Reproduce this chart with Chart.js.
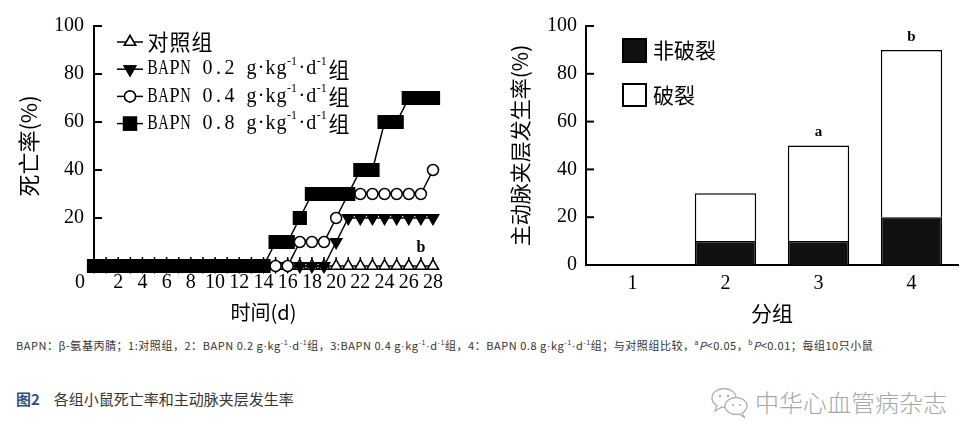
<!DOCTYPE html>
<html><head><meta charset="utf-8">
<script src="https://cdn.jsdelivr.net/npm/chart.js@4/dist/chart.umd.min.js"></script>
<style>
html,body{margin:0;padding:0;background:#fff;width:978px;height:445px;overflow:hidden;position:relative;font-family:"Noto Sans CJK SC",sans-serif}
#w1{position:absolute;left:0;top:0;width:470px;height:330px}
#w2{position:absolute;left:480px;top:0;width:498px;height:330px}
.note{position:absolute;left:16px;top:337px;font-size:11px;line-height:16px;color:#333;white-space:nowrap;letter-spacing:0.54px}
.note sup{font-size:7px;vertical-align:5px;line-height:0}
.note .d{font-family:"Liberation Sans",sans-serif}
.fig{position:absolute;left:16px;top:388px;font-size:15px;line-height:22px;color:#333;white-space:nowrap}
.fig b{color:#34507a;margin-right:14px}
.wm{position:absolute;left:755px;top:386px;font-size:24px;line-height:32px;color:#a8a8a8;white-space:nowrap;font-weight:300}
.icon{position:absolute;left:710px;top:386px}
</style></head>
<body>
<div id="w1"><canvas id="c1"></canvas></div>
<div id="w2"><canvas id="c2"></canvas></div>
<div class="note">BAPN：β-氨基丙腈；1:对照组，2：BAPN 0.2 g<span class="d">·</span>kg<sup>-1</sup><span class="d">·</span>d<sup>-1</sup>组，3:BAPN 0.4 g<span class="d">·</span>kg<sup>-1</sup><span class="d">·</span>d<sup>-1</sup>组，4：BAPN 0.8 g<span class="d">·</span>kg<sup>-1</sup><span class="d">·</span>d<sup>-1</sup>组；与对照组比较，<sup>a</sup><i>P</i>&lt;0.05，<sup>b</sup><i>P</i>&lt;0.01；每组10只小鼠</div>
<div class="fig"><b>图2</b>各组小鼠死亡率和主动脉夹层发生率</div>
<svg class="icon" width="42" height="34" viewBox="0 0 42 34"><g fill="#fff" stroke="#b0b0b0" stroke-width="1.3"><ellipse cx="14" cy="12" rx="12" ry="9.5"/><path d="M7 19 L5 25 L12 21"/><ellipse cx="26" cy="20" rx="11" ry="8.5"/><path d="M32 27 L35 32 L29 28"/></g><g fill="#b0b0b0"><circle cx="10" cy="10" r="1.3"/><circle cx="18" cy="10" r="1.3"/><circle cx="23" cy="19" r="1.1"/><circle cx="30" cy="19" r="1.1"/></g></svg>
<div class="wm">中华心血管病杂志</div>
<script>
// ---------- data: left chart (mortality over time) ----------
const days = [0,1,2,3,4,5,6,7,8,9,10,11,12,13,14,15,16,17,18,19,20,21,22,23,24,25,26,27,28];
const seriesNames = ['对照组','BAPN 0.2 g·kg⁻¹·d⁻¹组','BAPN 0.4 g·kg⁻¹·d⁻¹组','BAPN 0.8 g·kg⁻¹·d⁻¹组'];
const controlRate = [0,0,0,0,0,0,0,0,0,0,0,0,0,0,0,0,0,0,0,0,0,0,0,0,0,0,0,0,0];
const bapn02Rate  = [0,0,0,0,0,0,0,0,0,0,0,0,0,0,0,0,0,0,0,0,10,20,20,20,20,20,20,20,20];
const bapn04Rate  = [0,0,0,0,0,0,0,0,0,0,0,0,0,0,0,0,0,10,10,10,20,30,30,30,30,30,30,30,40];
const bapn08Rate  = [0,0,0,0,0,0,0,0,0,0,0,0,0,0,0,10,10,20,30,30,30,30,40,40,60,60,70,70,70];
const mortalityTicks = [20,40,60,80,100];
const mortalitySig = 'b';

// ---------- data: right chart (dissection incidence) ----------
const groups = ['1','2','3','4'];
const barNames = ['非破裂','破裂'];
const nonRupture = [0,10,10,20];
const rupture    = [0,20,40,70];
const groupSig   = ['','','a','b'];

const SERIF = '"Liberation Serif", "DejaVu Serif", serif';
const CJK = '"Noto Sans CJK SC", sans-serif';

function toPts(arr){ return arr.map((v,i)=>({x:days[i], y:v})); }

// draws text with half-width latin cells and full-width CJK cells, superscript ⁻¹
function drawRich(ctx, text, x, y, size){
  let cx = x;
  ctx.textBaseline = 'middle';
  const parts = text.split(/(⁻¹)/);
  for (const p of parts){
    if (!p) continue;
    if (p === '⁻¹'){
      ctx.font = Math.round(size*0.55) + 'px ' + SERIF;
      ctx.textAlign = 'left';
      ctx.fillText('-1', cx, y - size*0.33);
      cx += ctx.measureText('-1').width + 1;
    } else {
      for (const ch of p){
        const cjk = /[\u3000-\u9fff\uff00-\uffef]/.test(ch);
        const adv = cjk ? size : (ch === '·' ? size*0.36 : size/2);
        ctx.font = cjk ? size + 'px ' + CJK : Math.round(size*0.9) + 'px ' + SERIF;
        ctx.textAlign = 'center';
        const w = ctx.measureText(ch).width;
        const s = Math.min(1, adv*0.95/Math.max(w,1));
        ctx.save();
        ctx.translate(cx + adv/2, y);
        ctx.scale(s, 1);
        ctx.fillText(ch, 0, 0);
        ctx.restore();
        cx += adv;
      }
    }
  }
}

const tickMarks = {
  id: 'tickMarks',
  beforeDatasetsDraw(chart, args, o){
    const ctx = chart.ctx, xs = chart.scales.x, ys = chart.scales.y, a = chart.chartArea;
    ctx.save();
    ctx.strokeStyle = '#000';
    ctx.lineWidth = 2;
    ys.ticks.forEach(t => {
      if (t.value === 0) return;
      const py = ys.getPixelForValue(t.value);
      ctx.beginPath(); ctx.moveTo(a.left, py); ctx.lineTo(a.left + o.yLen, py); ctx.stroke();
    });
    if (o.xLen){
      ctx.lineWidth = 1.5;
      xs.ticks.forEach(t => {
        const px = xs.getPixelForValue(t.value);
        ctx.beginPath(); ctx.moveTo(px, a.bottom); ctx.lineTo(px, a.bottom - o.xLen); ctx.stroke();
      });
    }
    ctx.restore();
  }
};

const leftExtras = {
  id: 'leftExtras',
  afterDraw(chart){
    const ctx = chart.ctx, xs = chart.scales.x, ys = chart.scales.y;
    ctx.save();
    ctx.fillStyle = '#000';
    // origin label
    ctx.font = '20px ' + SERIF;
    ctx.textAlign = 'center'; ctx.textBaseline = 'middle';
    ctx.fillText('0', xs.getPixelForValue(0) - 14, ys.getPixelForValue(0) + 17);
    // significance mark
    ctx.font = 'bold 16px ' + SERIF;
    ctx.fillText(mortalitySig, xs.getPixelForValue(27), ys.getPixelForValue(7.5));
    // legend
    chart.data.datasets.forEach((ds, i) => {
      const yy = 42 + i*27.2;
      ctx.strokeStyle = '#000'; ctx.lineWidth = 1.5;
      ctx.beginPath(); ctx.moveTo(117, yy); ctx.lineTo(143, yy); ctx.stroke();
      Chart.helpers.drawPoint(ctx, {pointStyle: ds.pointStyle, rotation: ds.pointRotation || 0, radius: ds.pointRadius, borderWidth: 1.5}, 130, yy);
      ctx.fillStyle = ds.pointBackgroundColor; ctx.strokeStyle = '#000';
      ctx.fill(); ctx.stroke();
      ctx.fillStyle = '#000';
      drawRich(ctx, ds.label, 147, yy, 22);
    });
    ctx.restore();
  }
};

const rightExtras = {
  id: 'rightExtras',
  afterDraw(chart){
    const ctx = chart.ctx, xs = chart.scales.x, ys = chart.scales.y;
    ctx.save();
    // legend
    ctx.lineWidth = 2; ctx.strokeStyle = '#000';
    ctx.fillStyle = '#111'; ctx.fillRect(143, 39, 23, 23); ctx.strokeRect(143, 39, 23, 23);
    ctx.fillStyle = '#fff'; ctx.fillRect(143, 84, 23, 22); ctx.strokeRect(143, 84, 23, 22);
    ctx.fillStyle = '#000'; ctx.font = '21px ' + CJK; ctx.textAlign = 'left'; ctx.textBaseline = 'middle';
    ctx.fillText(barNames[0], 173, 50);
    ctx.fillText(barNames[1], 173, 95);
    // significance marks
    ctx.font = 'bold 15px ' + SERIF; ctx.textAlign = 'center';
    groups.forEach((g, i) => {
      if (!groupSig[i]) return;
      const total = nonRupture[i] + rupture[i];
      ctx.fillText(groupSig[i], xs.getPixelForValue(i), ys.getPixelForValue(total) - 13);
    });
    ctx.restore();
  }
};

const mk = (label, data, style, rot, r, fill, order) => ({
  label, data: toPts(data), borderColor:'#000', borderWidth:1.5,
  pointStyle: style, pointRotation: rot, pointRadius: r, pointHoverRadius: r,
  pointBackgroundColor: fill, pointBorderColor:'#000', pointBorderWidth:1.5,
  tension:0, clip:false, order
});

new Chart(document.getElementById('c1'), {
  type: 'line',
  data: { datasets: [
    mk(seriesNames[0], controlRate, 'triangle', 0, 6.5, '#fff', 3),
    mk(seriesNames[1], bapn02Rate, 'triangle', 180, 6.5, '#000', 2),
    mk(seriesNames[2], bapn04Rate, 'circle', 0, 5.5, '#fff', 1),
    mk(seriesNames[3], bapn08Rate, 'rect', 0, 9, '#000', 0)
  ]},
  options: {
    responsive: true, maintainAspectRatio: false, animation: false,
    layout: { padding: { left: 0, right: 37, top: 26, bottom: 0 } },
    plugins: { legend: { display: false }, tooltip: { enabled: false }, tickMarks: { yLen: 8, xLen: 9 } },
    scales: {
      x: { type: 'linear', min: 0, max: 28,
        afterFit: s => { s.height = 64; },
        grid: { display: false, drawTicks: false }, border: { display: false },
        ticks: { stepSize: 1, autoSkip: false, maxRotation: 0, padding: 5, color: '#000',
          font: { family: SERIF, size: 20 },
          callback: v => (v > 0 && v % 2 === 0) ? String(v) : '' },
        title: { display: true, text: '时间(d)', color: '#000', font: { family: CJK, size: 20 }, padding: { top: 0, bottom: 6 } }
      },
      y: { min: 0, max: 100,
        afterFit: s => { s.width = 94; },
        afterBuildTicks: s => { s.ticks = [0].concat(mortalityTicks).map(v => ({ value: v })); },
        grid: { display: false, drawTicks: false }, border: { display: true, color: '#000', width: 2 },
        ticks: { padding: 10, color: '#000', font: { family: SERIF, size: 20 },
          callback: v => v === 0 ? '' : String(v) },
        title: { display: true, text: '死亡率(%)', color: '#000', font: { family: CJK, size: 22 }, padding: { top: 15, bottom: 0 } }
      }
    }
  },
  plugins: [tickMarks, leftExtras]
});

new Chart(document.getElementById('c2'), {
  type: 'bar',
  data: { labels: groups, datasets: [
    { label: barNames[0], data: nonRupture, backgroundColor: '#111', borderColor: '#000', borderWidth: 1.5, barPercentage: 0.66, categoryPercentage: 1 },
    { label: barNames[1], data: rupture, backgroundColor: '#fff', borderColor: '#000', borderWidth: 1.5, barPercentage: 0.66, categoryPercentage: 1 }
  ]},
  options: {
    responsive: true, maintainAspectRatio: false, animation: false,
    layout: { padding: { left: 0, right: 20, top: 26, bottom: 0 } },
    plugins: { legend: { display: false }, tooltip: { enabled: false }, tickMarks: { yLen: 8, xLen: 0 } },
    scales: {
      x: { stacked: true,
        afterFit: s => { s.height = 65; },
        grid: { display: false, drawTicks: false }, border: { display: true, color: '#000', width: 2 },
        ticks: { padding: 7, color: '#000', font: { family: SERIF, size: 20 } },
        title: { display: true, text: '分组', color: '#000', font: { family: CJK, size: 21 }, padding: { top: 0, bottom: 4 } }
      },
      y: { stacked: true, min: 0, max: 100,
        afterFit: s => { s.width = 106; },
        grid: { display: false, drawTicks: false }, border: { display: true, color: '#000', width: 2 },
        ticks: { stepSize: 20, padding: 9, color: '#000', font: { family: SERIF, size: 20 } },
        title: { display: true, text: '主动脉夹层发生率(%)', color: '#000', font: { family: CJK, size: 21 }, padding: { top: 27, bottom: 0 } }
      }
    }
  },
  plugins: [tickMarks, rightExtras]
});
</script>
</body></html>
